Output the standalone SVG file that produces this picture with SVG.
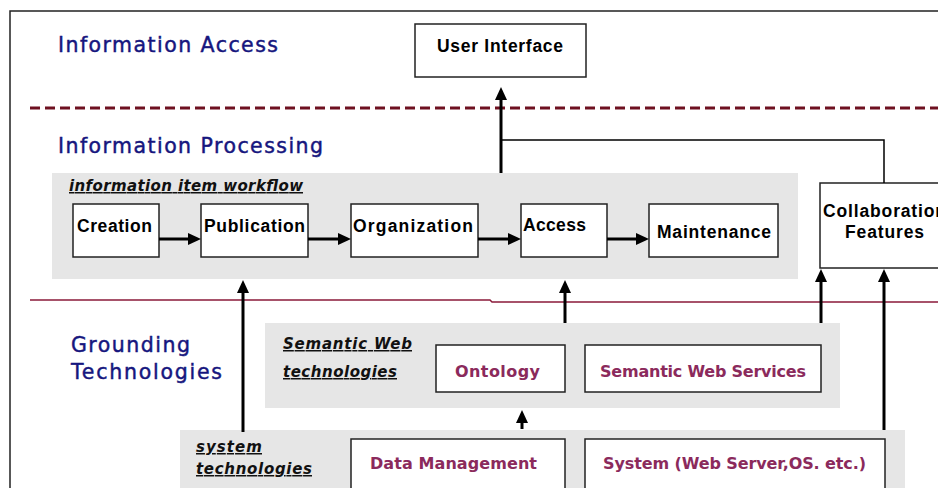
<svg xmlns="http://www.w3.org/2000/svg" width="938" height="488" viewBox="0 0 938 488">
  <defs>
    <marker id="arrow" markerUnits="userSpaceOnUse" markerWidth="13" markerHeight="12" viewBox="0 0 13 12" refX="0" refY="6" orient="auto">
      <path d="M0,0 L13,6 L0,12 z" fill="#000"/>
    </marker>
    <style>
      .frame { fill: none; stroke: #222; stroke-width: 1.5; }
      .band { fill: #e6e6e6; }
      .box { fill: #fff; stroke: #222; stroke-width: 1.5; }
      .layer { font-family: "DejaVu Sans", Verdana, sans-serif; font-size: 20.5px; fill: #16167e; stroke: #16167e; stroke-width: 0.45; }
      .step { font-family: "Liberation Sans", Arial, sans-serif; font-weight: bold; font-size: 17.5px; fill: #000; }
      .tech { font-family: "DejaVu Sans", Verdana, sans-serif; font-weight: bold; font-size: 16px; fill: #8b2a5c; }
      .group { font-family: "DejaVu Sans", Verdana, sans-serif; font-weight: bold; font-style: italic; font-size: 15px; fill: #111; text-decoration: underline; }
      .flow { fill: none; stroke: #000; stroke-width: 3; marker-end: url(#arrow); }
      .link { fill: none; stroke: #000; stroke-width: 1.5; }
      .sep-dash { fill: none; stroke: #6e1020; stroke-width: 3; stroke-dasharray: 10 5; }
      .sep { fill: none; stroke: #8a1a3a; stroke-width: 1.5; }
    </style>
  </defs>

  <rect width="938" height="488" fill="#fff"/>

  <!-- page frame (open to the right and bottom) -->
  <path class="frame" d="M10,488 V11 H938"/>

  <!-- layer separators -->
  <path class="sep-dash" d="M30,108 H938"/>
  <path class="sep" d="M30,300 H490 L492,302 H938"/>

  <!-- layer titles -->
  <g id="layer-titles">
    <text class="layer" x="58" y="52" textLength="220">Information Access</text>
    <text class="layer" x="58" y="153" textLength="265">Information Processing</text>
    <text class="layer" x="71" y="352" textLength="119">Grounding</text>
    <text class="layer" x="71" y="379" textLength="151">Technologies</text>
  </g>

  <!-- grey groups -->
  <g id="workflow-group">
    <rect class="band" x="52" y="173" width="746" height="106"/>
    <text class="group" x="69" y="191" textLength="234">information item workflow</text>
  </g>
  <g id="semantic-group">
    <rect class="band" x="265" y="323" width="575" height="85"/>
    <text class="group" x="283" y="349" textLength="129">Semantic Web</text>
    <text class="group" x="283" y="377" textLength="114">technologies</text>
  </g>
  <g id="system-group">
    <rect class="band" x="180" y="430" width="725" height="70"/>
    <text class="group" x="196" y="452" textLength="66">system</text>
    <text class="group" x="196" y="474" textLength="116">technologies</text>
  </g>

  <!-- nodes -->
  <g id="user-interface">
    <rect class="box" x="415" y="24" width="171" height="53"/>
    <text class="step" x="437" y="52" textLength="126">User Interface</text>
  </g>
  <g id="creation">
    <rect class="box" x="73" y="204" width="86" height="53"/>
    <text class="step" x="77" y="232" textLength="75">Creation</text>
  </g>
  <g id="publication">
    <rect class="box" x="201" y="204" width="107" height="53"/>
    <text class="step" x="204" y="232" textLength="101">Publication</text>
  </g>
  <g id="organization">
    <rect class="box" x="351" y="204" width="127" height="53"/>
    <text class="step" x="353" y="232" textLength="120">Organization</text>
  </g>
  <g id="access">
    <rect class="box" x="521" y="204" width="86" height="53"/>
    <text class="step" x="523" y="231" textLength="63">Access</text>
  </g>
  <g id="maintenance">
    <rect class="box" x="649" y="204" width="129" height="53"/>
    <text class="step" x="657" y="238" textLength="114">Maintenance</text>
  </g>
  <g id="collaboration">
    <rect class="box" x="820" y="183" width="140" height="85"/>
    <text class="step" x="823" y="217" textLength="123">Collaboration</text>
    <text class="step" x="845" y="238" textLength="79">Features</text>
  </g>
  <g id="ontology">
    <rect class="box" x="436" y="345" width="129" height="47"/>
    <text class="tech" x="455" y="377" textLength="85">Ontology</text>
  </g>
  <g id="semantic-web-services">
    <rect class="box" x="585" y="345" width="236" height="47"/>
    <text class="tech" x="600" y="377" textLength="206">Semantic Web Services</text>
  </g>
  <g id="data-management">
    <rect class="box" x="351" y="439" width="214" height="60"/>
    <text class="tech" x="370" y="469" textLength="167">Data Management</text>
  </g>
  <g id="system">
    <rect class="box" x="585" y="439" width="300" height="60"/>
    <text class="tech" x="603" y="469" textLength="263">System (Web Server,OS. etc.)</text>
  </g>

  <!-- connectors -->
  <g id="connectors">
    <path class="flow" d="M159,239 H188"/>
    <path class="flow" d="M308,239 H338"/>
    <path class="flow" d="M478,239 H508"/>
    <path class="flow" d="M607,239 H636"/>
    <path class="flow" d="M501,173 V100"/>
    <path class="link" d="M501,140 H884 V183"/>
    <path class="flow" d="M243,432 V293"/>
    <path class="flow" d="M565,323 V293"/>
    <path class="flow" d="M821,323 V282"/>
    <path class="flow" d="M884,430 V282"/>
    <path class="flow" d="M522,429 V423"/>
  </g>
</svg>
